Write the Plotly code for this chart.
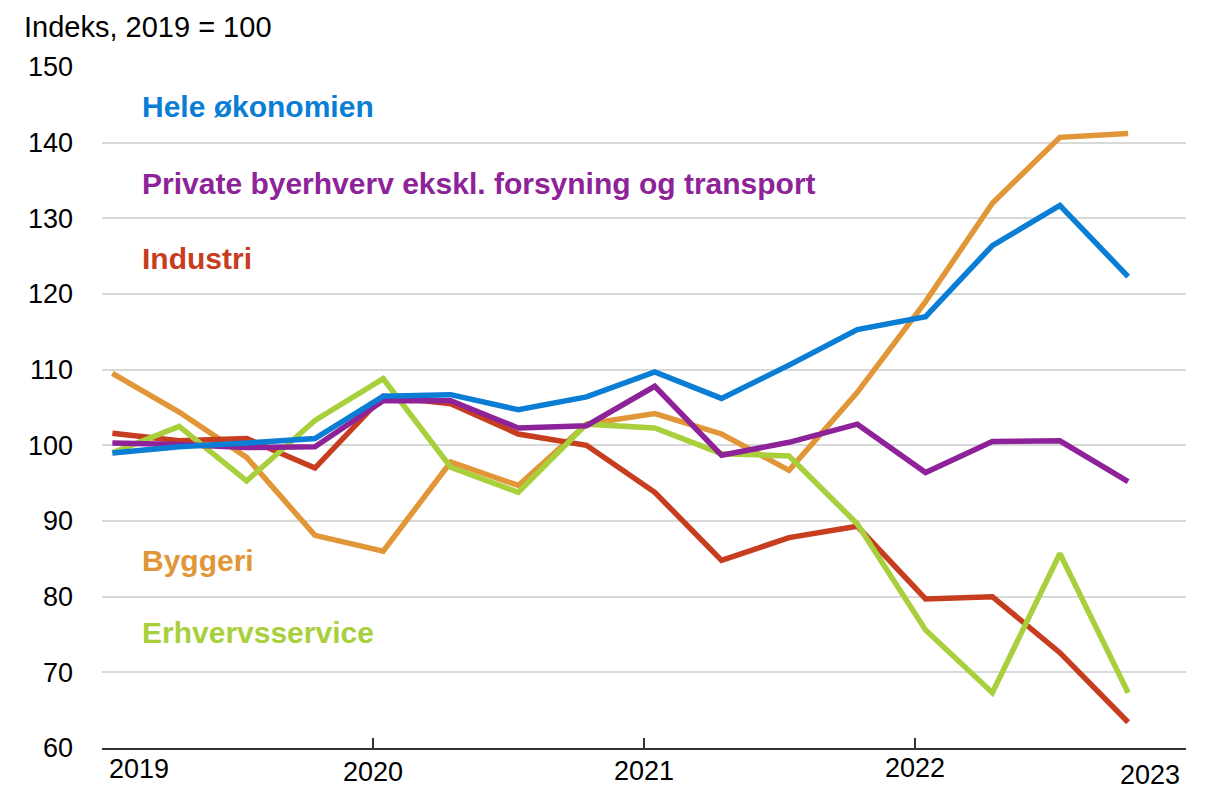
import plotly.graph_objects as go

quarters = ["2019-01-15", "2019-04-15", "2019-07-15", "2019-10-15",
            "2020-01-15", "2020-04-15", "2020-07-15", "2020-10-15",
            "2021-01-15", "2021-04-15", "2021-07-15", "2021-10-15",
            "2022-01-15", "2022-04-15", "2022-07-15", "2022-10-15"]

hele = [99.0, 99.8, 100.3, 100.9, 106.5, 106.7, 104.7, 106.4, 109.7, 106.2, 110.6, 115.3, 117.0, 126.4, 131.7, 122.3]
private = [100.3, 100.1, 99.7, 99.8, 105.9, 105.9, 102.3, 102.6, 107.8, 98.7, 100.4, 102.8, 96.4, 100.5, 100.6, 95.2]
industri = [101.6, 100.6, 100.9, 97.0, 106.5, 105.5, 101.5, 100.0, 93.8, 84.8, 87.8, 89.3, 79.7, 80.0, 72.6, 63.4]
byggeri = [109.5, 104.4, 98.4, 88.1, 86.0, 97.8, 94.7, 102.8, 104.2, 101.5, 96.7, 107.0, 119.0, 132.0, 140.7, 141.2]
erhverv = [99.0, 102.5, 95.3, 103.3, 108.8, 97.1, 93.8, 102.8, 102.3, 98.9, 98.6, 89.6, 75.6, 67.3, 85.7, 67.3]

series_names = ["Hele økonomien", "Private byerhverv ekskl. forsyning og transport",
                "Industri", "Byggeri", "Erhvervsservice"]
colors = ["#0A7DD4", "#8E2399", "#C63D1F", "#E19637", "#A8CF3C"]
label_y = [144.8, 134.6, 124.7, 84.8, 75.2]

year_ticks = ["2019-01-01", "2020-01-01", "2021-01-01", "2022-01-01", "2023-01-01"]
year_labels = ["2019", "2020", "2021", "2022", "2023"]
year_label_x = ["2019-02-20", "2020-01-01", "2021-01-01", "2022-01-01", "2022-11-13"]
year_label_y = [-0.031, -0.035, -0.034, -0.029, -0.039]

FONT = "Liberation Sans, Arial, sans-serif"

fig = go.Figure()
data = [hele, private, industri, byggeri, erhverv]
for i in [3, 2, 4, 1, 0]:
    fig.add_trace(go.Scatter(x=quarters, y=data[i], mode="lines", name=series_names[i],
                             line=dict(color=colors[i], width=5.5), showlegend=False))

for name, c, ly in zip(series_names, colors, label_y):
    fig.add_annotation(x=0.035, xref="paper", y=ly, yref="y", text="<b>%s</b>" % name,
                       showarrow=False, xanchor="left", yanchor="middle",
                       font=dict(family=FONT, size=30, color=c))

for lab, lx, lyy in zip(year_labels, year_label_x, year_label_y):
    fig.add_annotation(x=lx, xref="x", y=lyy, yref="paper", text=lab, showarrow=False,
                       xanchor="center", yanchor="middle",
                       font=dict(family=FONT, size=27, color="#000000"))

fig.add_annotation(x=-0.0738, xref="paper", y=1.0587, yref="paper", text="Indeks, 2019 = 100",
                   showarrow=False, xanchor="left", yanchor="middle",
                   font=dict(family=FONT, size=29, color="#000000"))

fig.update_layout(
    width=1198, height=781,
    margin=dict(l=94, r=20, t=59, b=41),
    paper_bgcolor="white", plot_bgcolor="white",
    font=dict(family=FONT, size=27, color="#000000"),
    xaxis=dict(type="date", range=["2019-01-01", "2023-01-01"], tickvals=year_ticks,
               showticklabels=False, ticks="inside", ticklen=10, tickwidth=1.5,
               tickcolor="#333333", showline=True, linecolor="#333333", linewidth=1.5,
               showgrid=False, zeroline=False),
    yaxis=dict(range=[60, 150], dtick=10, tick0=60, showgrid=True, gridcolor="#D9D9D9",
               gridwidth=1.5, showline=False, zeroline=False, ticks="",
               ticklabelstandoff=28, tickfont=dict(family=FONT, size=27, color="#000000")),
)

fig.write_html("out.html")
